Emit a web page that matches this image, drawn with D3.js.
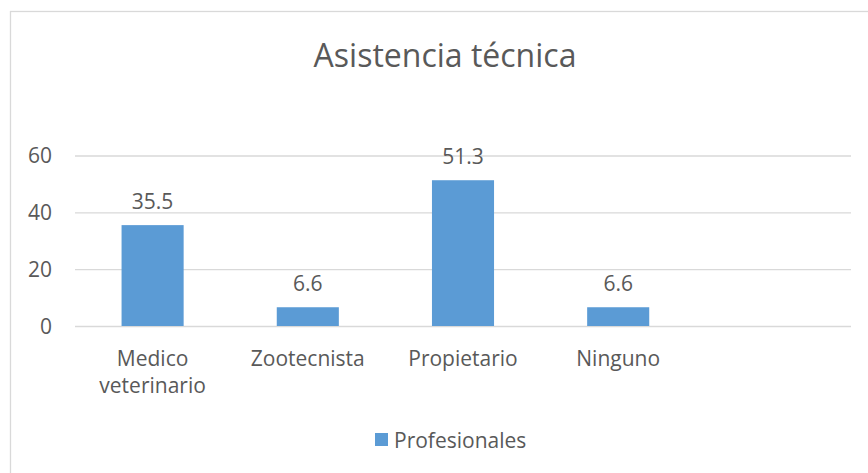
<!DOCTYPE html>
<html>
  <head>
    <meta charset="UTF-8">
    <script src="https://d3js.org/d3.v7.min.js"></script>
    <style>
      body{ margin: 0; background: #fff; }
      svg text{ font-family: "Open Sans", sans-serif; fill: #595959; }
      .gridlines .domain{ stroke: none }
      .gridlines line{ stroke: #d9d9d9; stroke-width: 1.3 }
    </style>
    <title>Asistencia técnica</title>
  </head>
  <body>
    <svg id="chart" width="868" height="473"></svg>
    <script>
      // data
      const categories = ["Medico veterinario", "Zootecnista", "Propietario", "Ninguno", ""];
      const values = [35.5, 6.6, 51.3, 6.6, null];
      const yTicks = [0, 20, 40, 60];
      const seriesName = "Profesionales";
      const chartTitle = "Asistencia técnica";

      const svg = d3.select("svg#chart");
      const width = +svg.attr("width");
      const height = +svg.attr("height");
      const margin = {"top": 155.5, "right": 17, "bottom": 147, "left": 75};
      const chartWidth = width - margin.left - margin.right;
      const chartHeight = height - margin.top - margin.bottom;

      // outer chart border
      svg.append("rect")
         .attr("x", 10.5).attr("y", 11.5)
         .attr("width", width).attr("height", height)
         .attr("fill", "none").attr("stroke", "#d9d9d9").attr("stroke-width", 1.3);

      svg.append("text")
         .attr("x", 445).attr("y", 67)
         .attr("text-anchor", "middle")
         .style("font-size", "32px")
         .text(chartTitle);

      const plot = svg.append("g")
                      .attr("transform", "translate(" + margin.left + "," + margin.top + ")");

      const xScale = d3.scaleBand().domain(categories).range([0, chartWidth])
                       .paddingInner(0.6).paddingOuter(0.3);
      const yScale = d3.scaleLinear().domain([0, 60]).range([chartHeight, 0]);

      let y_grid = d3.axisLeft(yScale).tickValues(yTicks).tickFormat("").tickSize(-chartWidth);
      plot.append("g")
          .attr("class", "gridlines")
          .call(y_grid);

      // y tick labels
      plot.selectAll("text.ytick").data(yTicks)
          .enter().append("text")
          .attr("class", "ytick")
          .attr("x", -23)
          .attr("y", d => yScale(d) + 7.5)
          .attr("text-anchor", "end")
          .style("font-size", "21px")
          .text(d => d);

      const data = categories.map((c, i) => ({c, v: values[i]})).filter(d => d.v != null);
      const step = xScale.step();
      const barW = xScale.bandwidth();

      plot.selectAll("rect.bar").data(data)
          .enter().append("rect")
          .attr("class", "bar")
          .attr("x", d => xScale(d.c))
          .attr("width", barW)
          .attr("y", d => yScale(d.v))
          .attr("height", d => yScale(0) - yScale(d.v))
          .attr("fill", "#5b9bd5");

      plot.selectAll("text.val").data(data)
          .enter().append("text")
          .attr("class", "val")
          .attr("x", d => xScale(d.c) + barW / 2)
          .attr("y", d => yScale(d.v) - 16.5)
          .attr("text-anchor", "middle")
          .style("font-size", "21px")
          .text(d => d.v);

      // category labels, wrapped to the band step
      categories.forEach(c => {
        if (!c) return;
        const t = plot.append("text")
                      .attr("text-anchor", "middle")
                      .attr("x", xScale(c) + barW / 2)
                      .attr("y", chartHeight + 40)
                      .style("font-size", "21px");
        const words = c.split(" ");
        let line = [];
        let lineNo = 0;
        let tspan = t.append("tspan").attr("x", xScale(c) + barW / 2).attr("dy", 0);
        words.forEach(w => {
          line.push(w);
          tspan.text(line.join(" "));
          if (tspan.node().getComputedTextLength() > step && line.length > 1) {
            line.pop();
            tspan.text(line.join(" "));
            line = [w];
            lineNo++;
            tspan = t.append("tspan").attr("x", xScale(c) + barW / 2).attr("dy", 27).text(w);
          }
        });
      });

      // legend
      const legend = svg.append("g").attr("transform", "translate(375,433)");
      legend.append("rect").attr("width", 13).attr("height", 13).attr("fill", "#5b9bd5");
      legend.append("text")
            .attr("x", 19).attr("y", 15)
            .style("font-size", "21px")
            .text(seriesName);
    </script>
  </body>
</html>
